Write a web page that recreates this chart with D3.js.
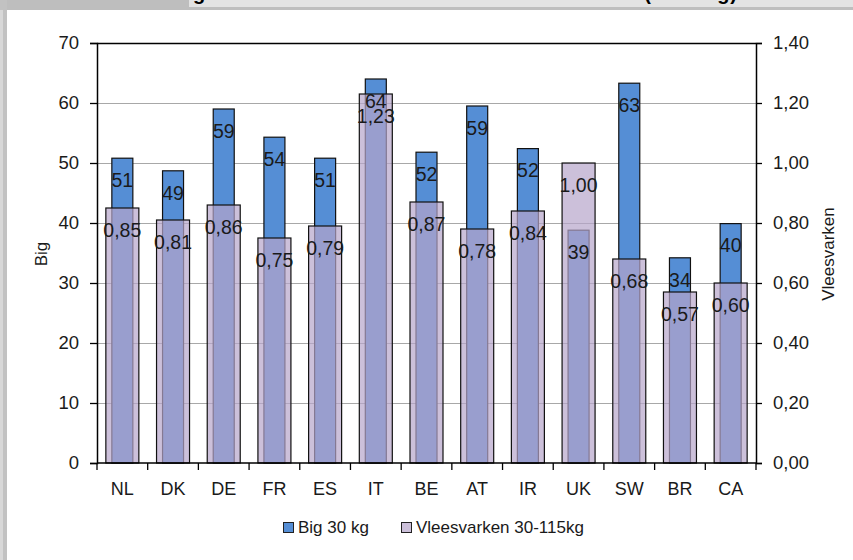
<!DOCTYPE html>
<html>
<head>
<meta charset="utf-8">
<script src="https://cdn.jsdelivr.net/npm/d3@7"></script>
<style>
  html, body { margin: 0; padding: 0; background: #ffffff; }
  svg { display: block; font-family: "Liberation Sans", Arial, sans-serif; }
</style>
</head>
<body>
<svg id="chart" width="853" height="560"></svg>
<script>
// ---- data ----
const categories = ["NL", "DK", "DE", "FR", "ES", "IT", "BE", "AT", "IR", "UK", "SW", "BR", "CA"];
const bigValues = [50.8, 48.7, 59.0, 54.3, 50.8, 64.0, 51.8, 59.5, 52.4, 38.8, 63.3, 34.2, 39.9];
const bigLabels = ["51", "49", "59", "54", "51", "64", "52", "59", "52", "39", "63", "34", "40"];
const vleesValues = [0.85, 0.81, 0.86, 0.75, 0.79, 1.23, 0.87, 0.78, 0.84, 1.00, 0.68, 0.57, 0.60];
const leftTicks = [0, 10, 20, 30, 40, 50, 60, 70];
const rightTicks = [0, 0.2, 0.4, 0.6, 0.8, 1.0, 1.2, 1.4];
const seriesNames = ["Big 30 kg", "Vleesvarken 30-115kg"];
const leftTitle = "Big";
const rightTitle = "Vleesvarken";
const chartTitle = "gemiddelde kosten in verschillende landen (euro/kg)";

// ---- layout ----
const svg = d3.select("#chart");
const plot = { left: 97, right: 756, top: 43, bottom: 463 };
const blueColor = "#558ed5";
const purpleFill = "rgb(182,165,202)";
const purpleOpacity = 0.7;
const textColor = "#1a1a1a";
const commaFmt = d => d3.format(".2f")(d).replace(".", ",");

const x = d3.scaleBand().domain(categories).range([plot.left, plot.right]).padding(0);
const yL = d3.scaleLinear().domain([0, 70]).range([plot.bottom, plot.top]);
const yR = d3.scaleLinear().domain([0, 1.4]).range([plot.bottom, plot.top]);

// ---- frame ----
svg.append("rect").attr("x", 0).attr("y", 0).attr("width", 853).attr("height", 560).attr("fill", "#ffffff");
svg.append("rect").attr("x", 0).attr("y", 0).attr("width", 853).attr("height", 10).attr("fill", "#bebebe");
svg.append("rect").attr("x", 0).attr("y", 0).attr("width", 7).attr("height", 560).attr("fill", "#c2c2c2");
svg.append("rect").attr("x", 0).attr("y", 10).attr("width", 3).attr("height", 550).attr("fill", "#d8d8d8");
svg.append("clipPath").attr("id", "titleClip")
  .append("rect").attr("x", 189).attr("y", 0).attr("width", 664).attr("height", 7);
const tg = svg.append("g").attr("clip-path", "url(#titleClip)");
tg.append("rect").attr("x", 189).attr("y", 0).attr("width", 664).attr("height", 7).attr("fill", "#e3e3e3");
tg.append("text").attr("x", 193).attr("y", -0.5)
  .attr("font-size", 20).attr("font-weight", "bold").attr("fill", "#000")
  .attr("textLength", 544).attr("lengthAdjust", "spacing")
  .text(chartTitle);

// ---- gridlines ----
svg.append("g").selectAll("line").data(leftTicks.filter(t => t > 0 && t < 70)).join("line")
  .attr("x1", plot.left).attr("x2", plot.right)
  .attr("y1", d => yL(d) + 0.5).attr("y2", d => yL(d) + 0.5)
  .attr("stroke", "#a8a8a8").attr("stroke-width", 1.2);
svg.append("line").attr("x1", plot.left).attr("x2", plot.right)
  .attr("y1", plot.top + 0.5).attr("y2", plot.top + 0.5).attr("stroke", "#000").attr("stroke-width", 1.3);

// ---- bars ----
const blueW = 21, purpleW = 33;
svg.append("g").selectAll("rect").data(categories).join("rect")
  .attr("x", (d) => x(d) + x.bandwidth() / 2 - blueW / 2)
  .attr("y", (d, i) => yL(bigValues[i]))
  .attr("width", blueW)
  .attr("height", (d, i) => yL(0) - yL(bigValues[i]))
  .attr("fill", blueColor).attr("stroke", "#111").attr("stroke-width", 1.2);

svg.append("g").selectAll("rect").data(categories).join("rect")
  .attr("x", (d) => x(d) + x.bandwidth() / 2 - purpleW / 2)
  .attr("y", (d, i) => yR(vleesValues[i]))
  .attr("width", purpleW)
  .attr("height", (d, i) => yR(0) - yR(vleesValues[i]))
  .attr("fill", purpleFill).attr("fill-opacity", purpleOpacity)
  .attr("stroke", "#111").attr("stroke-width", 1.2);

// ---- axes ----
const axL = svg.append("g").attr("transform", `translate(${plot.left},0)`)
  .call(d3.axisLeft(yL).tickValues(leftTicks).tickSize(7).tickPadding(11).tickFormat(d3.format("d")));
const axR = svg.append("g").attr("transform", `translate(${plot.right},0)`)
  .call(d3.axisRight(yR).tickValues(rightTicks).tickSize(6).tickPadding(11).tickFormat(commaFmt));
const axB = svg.append("g").attr("transform", `translate(0,${plot.bottom})`)
  .call(d3.axisBottom(x).tickSize(0).tickPadding(19));
[axL, axR, axB].forEach(a => {
  a.select(".domain").attr("stroke", "#000").attr("stroke-width", 1.5);
  a.selectAll(".tick line").attr("stroke", "#000").attr("stroke-width", 1.3);
  a.selectAll("text").attr("font-size", 18.5).attr("fill", textColor)
    .attr("font-family", "'Liberation Sans', Arial, sans-serif");
});
axB.select(".domain").attr("d", `M${plot.left},0H${plot.right}`);
axB.selectAll("text").attr("font-size", 18);
// category boundary ticks
const bounds = categories.map(c => x(c)).concat([plot.right]);
svg.append("g").selectAll("line").data(bounds).join("line")
  .attr("x1", d => d).attr("x2", d => d)
  .attr("y1", plot.bottom).attr("y2", plot.bottom + 7)
  .attr("stroke", "#000").attr("stroke-width", 1.3);

// axis titles
svg.append("text").attr("transform", "translate(47,254) rotate(-90)")
  .attr("text-anchor", "middle").attr("font-size", 17).attr("fill", textColor).text(leftTitle);
svg.append("text").attr("transform", "translate(834,254) rotate(-90)")
  .attr("text-anchor", "middle").attr("font-size", 17).attr("fill", textColor).text(rightTitle);

// ---- value labels ----
const lab = svg.append("g").attr("font-size", 19.5).attr("fill", textColor).attr("text-anchor", "middle");
lab.selectAll("text.big").data(categories).join("text").attr("class", "big")
  .attr("x", d => x(d) + x.bandwidth() / 2)
  .attr("y", (d, i) => yL(bigValues[i]) + 22)
  .attr("dy", "0.35em")
  .text((d, i) => bigLabels[i]);
lab.selectAll("text.vl").data(categories).join("text").attr("class", "vl")
  .attr("x", d => x(d) + x.bandwidth() / 2)
  .attr("y", (d, i) => yR(vleesValues[i]) + 22)
  .attr("dy", "0.35em")
  .text((d, i) => commaFmt(vleesValues[i]));

// ---- legend ----
const legend = svg.append("g").attr("font-size", 17).attr("fill", textColor);
const legendItems = [
  { name: seriesNames[0], x: 283, fill: blueColor },
  { name: seriesNames[1], x: 401, fill: "#ccc0da" }
];
legendItems.forEach(it => {
  legend.append("rect").attr("x", it.x + 0.5).attr("y", 522.5).attr("width", 10).attr("height", 10)
    .attr("fill", it.fill).attr("stroke", "#222").attr("stroke-width", 1);
  legend.append("text").attr("x", it.x + 15).attr("y", 527.5).attr("dy", "0.35em").text(it.name);
});
</script>
</body>
</html>
